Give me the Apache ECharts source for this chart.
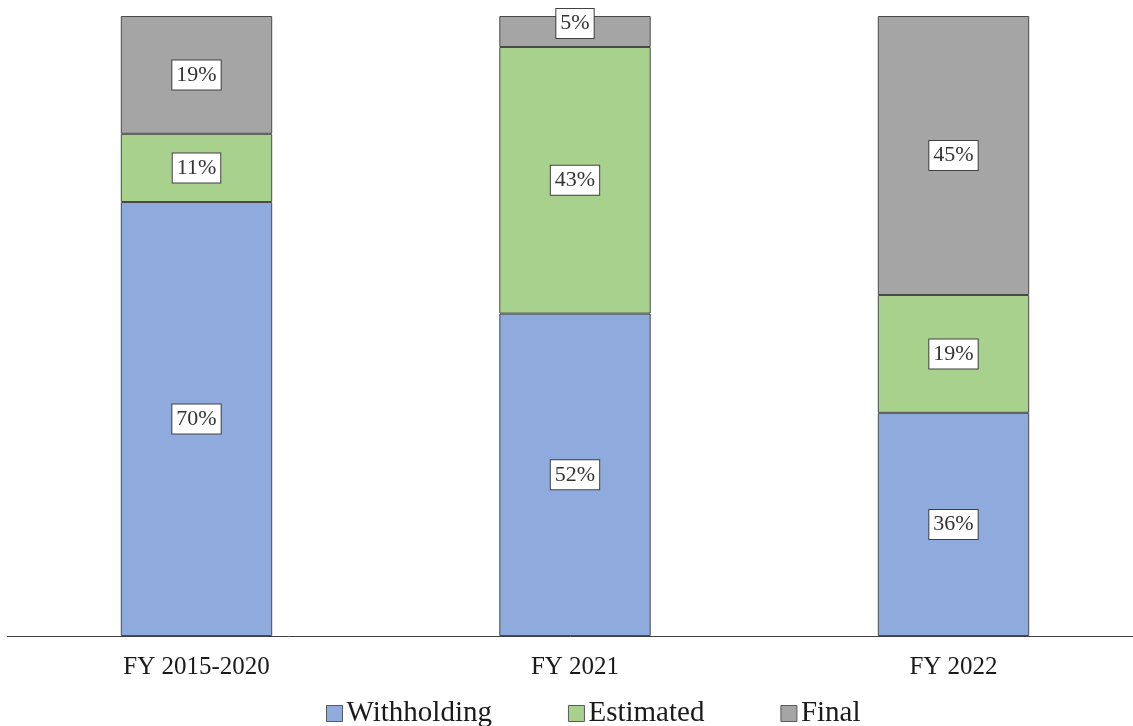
<!DOCTYPE html>
<html>
<head>
<meta charset="utf-8">
<script src="https://cdn.jsdelivr.net/npm/echarts@6/dist/echarts.min.js"></script>
<style>
html,body{margin:0;padding:0;background:#fff;}
#chart{width:1133px;height:726px;}
</style>
</head>
<body>
<div id="chart"></div>
<script>
var categories = ['FY 2015-2020', 'FY 2021', 'FY 2022'];
var withholding = [70, 52, 36];
var estimated = [11, 43, 19];
var finalPay = [19, 5, 45];
var seriesNames = ['Withholding', 'Estimated', 'Final'];
var colors = ['#8FAADC', '#A9D18E', '#A5A5A5'];

var chart = echarts.init(document.getElementById('chart'));
var font = '"Liberation Serif", "Times New Roman", serif';

function makeSeries(name, data, color) {
  return {
    name: name,
    type: 'bar',
    stack: 'total',
    barWidth: '40%',
    data: data,
    itemStyle: { color: color, borderColor: '#4a4a4a', borderWidth: 1 },
    label: {
      show: true,
      position: 'inside',
      formatter: '{c}%',
      fontFamily: font,
      fontSize: 22,
      color: '#333',
      backgroundColor: '#fff',
      borderColor: '#404040',
      borderWidth: 1,
      padding: [4, 4, 3, 4]
    }
  };
}

var series = [
  makeSeries(seriesNames[0], withholding, colors[0]),
  makeSeries(seriesNames[1], estimated, colors[1]),
  makeSeries(seriesNames[2], finalPay, colors[2])
];
// small segment label sits slightly above centre in the reference
series[2].data = finalPay.map(function (v, i) {
  return i === 1 ? { value: v, label: { offset: [0, -8] } } : v;
});

chart.setOption({
  animation: false,
  color: colors,
  grid: { left: 7.25, width: 1135.5, top: 16, bottom: 90, containLabel: false, outerBoundsMode: 'none' },
  xAxis: {
    type: 'category',
    data: categories,
    axisLine: { lineStyle: { color: '#404040', width: 1 } },
    axisTick: { show: false },
    axisLabel: { fontFamily: font, fontSize: 25, color: '#1a1a1a', margin: 19 }
  },
  yAxis: {
    type: 'value',
    min: 0,
    max: 100,
    show: false
  },
  legend: {
    data: seriesNames,
    left: 326,
    top: 699,
    padding: 0,
    icon: 'rect',
    itemWidth: 16,
    itemHeight: 16,
    itemGap: 76,
    itemStyle: { borderColor: '#595959', borderWidth: 1 },
    textStyle: { fontFamily: font, fontSize: 29, color: '#1a1a1a', padding: [0, 0, 0, -1] }
  },
  series: series
});
</script>
</body>
</html>
